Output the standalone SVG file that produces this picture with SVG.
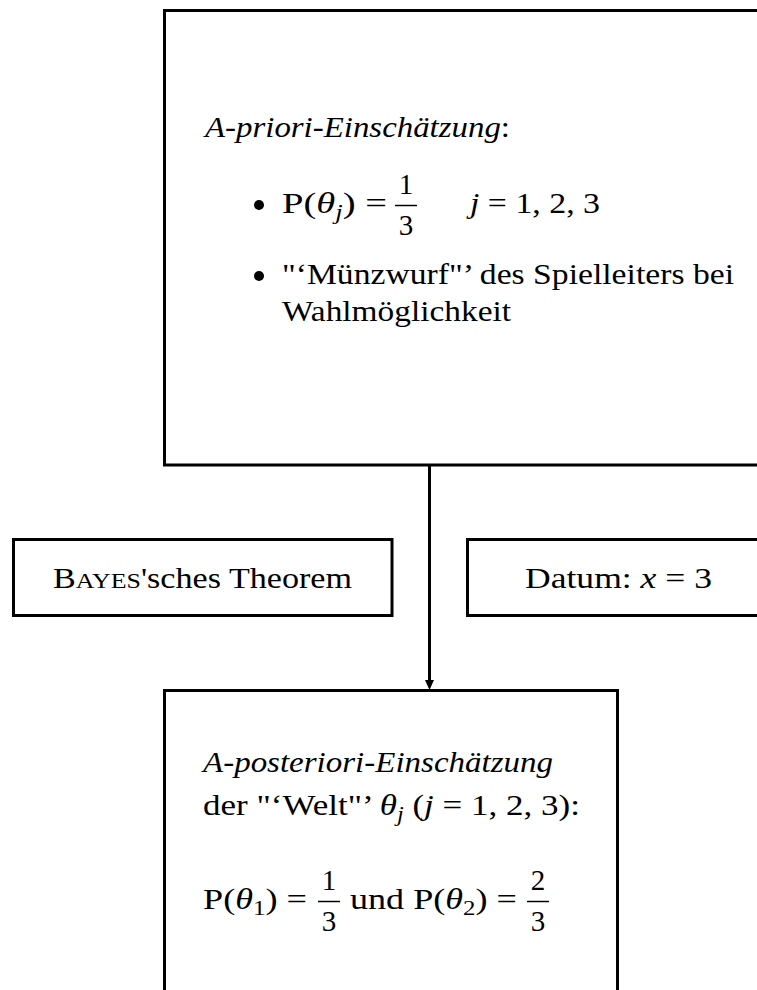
<svg xmlns="http://www.w3.org/2000/svg" width="757" height="990" viewBox="0 0 757 990">
<style>
.box{fill:none;stroke:#000;stroke-width:3}
.t{font-family:"Liberation Serif","Times New Roman",serif;font-size:29px;fill:#000}
.it{font-style:italic}
.sub{font-size:20px}
.sc{font-size:22px}
.line{stroke:#000;stroke-width:3;fill:none}
.bar{stroke:#000;stroke-width:1.5}
</style>
<rect width="757" height="990" fill="#fff"/>
<g id="connectors">
<line class="line" x1="429.5" y1="465" x2="429.5" y2="681"/>
<path d="M425,680 L434,680 L429.5,690 Z" fill="#000"/>
</g>
<g id="prior">
<rect class="box" x="164.5" y="10.5" width="700" height="454.5"/>
<text class="t it" x="205" y="137" textLength="305" lengthAdjust="spacingAndGlyphs">A-priori-Einschätzung<tspan font-style="normal">:</tspan></text>
<circle cx="259" cy="205" r="5" fill="#000"/>
<text class="t" x="282" y="213" textLength="105" lengthAdjust="spacingAndGlyphs">P(<tspan class="it">θ</tspan><tspan class="it sub" dy="6">j</tspan><tspan dy="-6">) =</tspan></text>
<text class="t" x="406" y="194" text-anchor="middle">1</text>
<line class="bar" x1="395" y1="205.5" x2="417" y2="205.5"/>
<text class="t" x="406" y="235" text-anchor="middle">3</text>
<text class="t" x="470" y="213" textLength="130" lengthAdjust="spacingAndGlyphs"><tspan class="it">j</tspan> = 1, 2, 3</text>
<circle cx="259" cy="276" r="5" fill="#000"/>
<text class="t" x="282" y="284" textLength="452" lengthAdjust="spacingAndGlyphs">"‘Münzwurf"’ des Spielleiters bei</text>
<text class="t" x="282" y="321" textLength="229" lengthAdjust="spacingAndGlyphs">Wahlmöglichkeit</text>
</g>
<g id="bayes">
<rect class="box" x="13.5" y="539.5" width="378.5" height="76"/>
<text class="t" x="53" y="588" textLength="299" lengthAdjust="spacingAndGlyphs">B<tspan class="sc">AYES</tspan>'sches Theorem</text>
</g>
<g id="datum">
<rect class="box" x="467.5" y="539.5" width="400" height="76"/>
<text class="t" x="525" y="588" textLength="187" lengthAdjust="spacingAndGlyphs">Datum: <tspan class="it">x</tspan> = 3</text>
</g>
<g id="posterior">
<rect class="box" x="164.5" y="690.5" width="453" height="400"/>
<text class="t it" x="203" y="772" textLength="350" lengthAdjust="spacingAndGlyphs">A-posteriori-Einschätzung</text>
<text class="t" x="203" y="815" textLength="377" lengthAdjust="spacingAndGlyphs">der "‘Welt"’ <tspan class="it">θ</tspan><tspan class="it sub" dy="6">j</tspan><tspan dy="-6"> (</tspan><tspan class="it">j</tspan> = 1, 2, 3):</text>
<text class="t" x="203" y="909" textLength="104" lengthAdjust="spacingAndGlyphs">P(<tspan class="it">θ</tspan><tspan class="sub" dy="6">1</tspan><tspan dy="-6">) =</tspan></text>
<text class="t" x="329" y="890" text-anchor="middle">1</text>
<line class="bar" x1="318" y1="901.5" x2="340" y2="901.5"/>
<text class="t" x="329" y="931" text-anchor="middle">3</text>
<text class="t" x="350" y="909" textLength="167" lengthAdjust="spacingAndGlyphs">und P(<tspan class="it">θ</tspan><tspan class="sub" dy="6">2</tspan><tspan dy="-6">) =</tspan></text>
<text class="t" x="538" y="890" text-anchor="middle">2</text>
<line class="bar" x1="527" y1="901.5" x2="549" y2="901.5"/>
<text class="t" x="538" y="931" text-anchor="middle">3</text>
</g>
</svg>
